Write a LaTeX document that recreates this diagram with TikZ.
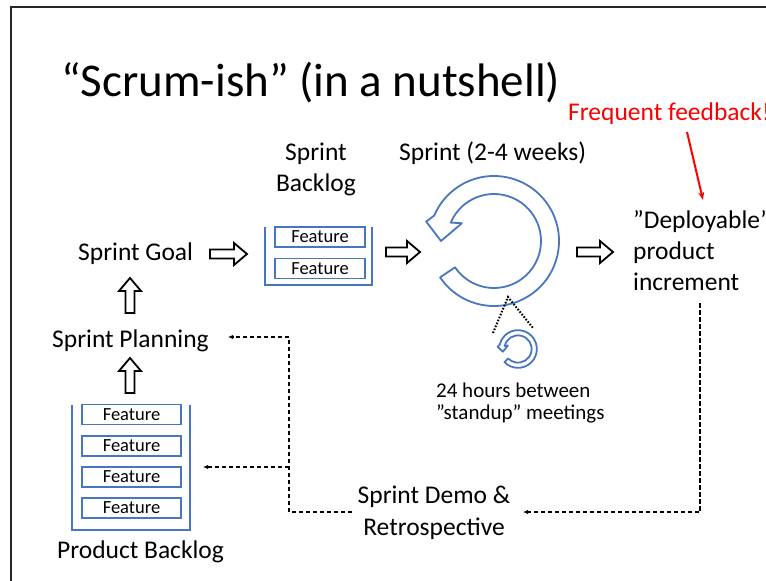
\documentclass[tikz,border=0pt]{standalone}
\usepackage{fontspec}
\setmainfont{Carlito}
\usetikzlibrary{arrows.meta}
\definecolor{bluec}{RGB}{72,118,192}
\definecolor{redc}{RGB}{250,0,0}
\begin{document}
\begin{tikzpicture}[x=1pt,y=-1pt,
  txt/.style={inner sep=0pt, font=\fontsize{25.5}{30}\selectfont},
  small/.style={inner sep=0pt, font=\fontsize{21}{25}\selectfont},
  feat/.style={draw=bluec, line width=1.7pt, inner sep=0pt, minimum height=20pt,
    font=\fontsize{18.5}{21}\selectfont},
  cont/.style={draw=bluec, line width=1.8pt},
  blk/.style={draw=black, fill=white, line width=1.8pt, line join=miter},
  cycst/.style={draw=bluec, fill=white, line width=1.8pt, line join=round},
  dconn/.style={draw=black, line width=1.6pt, dash pattern=on 4.5pt off 2.5pt,
    -{Latex[length=5pt,width=4.5pt]}},
  dotl/.style={draw=black, line width=2pt, dash pattern=on 1.6pt off 1.6pt},
  pics/barr/.style={code={
    \draw[blk] (0,-4.5) -- ({#1-13},-4.5) -- ({#1-13},-11) -- (#1,0) -- ({#1-13},11) -- ({#1-13},4.5) -- (0,4.5) -- cycle;}},
  pics/cyc/.style={code={
    \begin{scope}[x=1pt,y=1pt]
    \draw[cycst] (214:65) arc[start angle=214,end angle=517,radius=65] -- (164:70.6) -- (180:53) -- (151:36.7) -- (157:47) arc[start angle=157,end angle=-146,radius=47] -- cycle;
    \end{scope}}}
]
\useasboundingbox (0,0) rectangle (766,581);
% slide frame
\draw[line width=1.6pt, black!85] (11,581) -- (11,7) -- (766,7);

% title
\node[inner sep=0pt, anchor=base west, font=\fontsize{47}{56}\selectfont] (title) at (61,96) {“Scrum-ish” (in a nutshell)};
\node[inner sep=0pt, anchor=base west, text=redc, font=\fontsize{25.5}{30}\selectfont] (ff) at (568,120) {Frequent feedback!};

% labels
\node[txt, anchor=base west] (sprintlbl) at (399,160) {Sprint (2-4 weeks)};
\node[txt, anchor=base] (sb1) at (316,160) {Sprint};
\node[txt, anchor=base] (sb2) at (316,191) {Backlog};
\node[txt, anchor=base west] (goal) at (78,260) {Sprint Goal};
\node[txt, anchor=base west] (plan) at (52,347) {Sprint Planning};
\node[txt, anchor=base west] (pb) at (57,558) {Product Backlog};
\node[txt, anchor=base west] (dep1) at (633,228) {”Deployable”};
\node[txt, anchor=base west] (dep2) at (633,259) {product};
\node[txt, anchor=base west] (dep3) at (633,290) {increment};
\node[small, anchor=base west] (st1) at (436,397) {24 hours between};
\node[small, anchor=base west] (st2) at (436,419) {”standup” meetings};
\node[txt, anchor=base] (demo1) at (434,503) {Sprint Demo \&};
\node[txt, anchor=base] (demo2) at (434,535) {Retrospective};

% sprint backlog container
\draw[cont] (265,227) -- (265,285) -- (372,285) -- (372,227);
\node[feat, minimum width=90pt] (sf1) at (320,237) {Feature};
\node[feat, minimum width=90pt] (sf2) at (320,268.5) {Feature};

% product backlog container
\draw[cont] (72,405) -- (72,530) -- (190,530) -- (190,405);
\node[feat, minimum width=99pt] (pf1) at (131.5,414.5) {Feature};
\node[feat, minimum width=99pt] (pf2) at (131.5,446) {Feature};
\node[feat, minimum width=99pt] (pf3) at (131.5,477) {Feature};
\node[feat, minimum width=99pt] (pf4) at (131.5,508) {Feature};

% block arrows
\pic at (210,254) {barr=37};
\pic at (386,252) {barr=34};
\pic at (577,252) {barr=36};
\pic[rotate=90] at (130,313) {barr=35};
\pic[rotate=90] at (130,393) {barr=35};

% cycle arrows
\pic at (494,241) {cyc};
\pic[scale=0.29, rotate=10] at (518,349) {cyc};

% dotted lines
\coordinate (ap) at (508,297);
\coordinate (dl) at (493,333);
\coordinate (dr) at (533,328);
\draw[dotl] (dl) -- (ap) -- (dr);

% red feedback arrow
\coordinate (ffa) at (687,132);
\coordinate (ffb) at (703,200);
\draw[redc, line width=2pt, -{Stealth[length=8pt,width=6pt]}] (ffa) -- (ffb);

% dashed feedback loops
\coordinate (incb) at (700,303);
\coordinate (dcorner) at (700,512);
\coordinate (demoin) at (523,512);
\draw[dconn] (incb) -- (dcorner) -- (demoin);
\coordinate (demoout) at (352,512);
\coordinate (lcorner) at (289,512);
\coordinate (tcorner) at (289,337);
\coordinate (planin) at (228,337);
\coordinate (branch) at (289,467);
\coordinate (pbin) at (203,467);
\draw[dconn] (demoout) -- (lcorner) -- (tcorner) -- (planin);
\draw[dconn] (branch) -- (pbin);
\end{tikzpicture}
\end{document}
